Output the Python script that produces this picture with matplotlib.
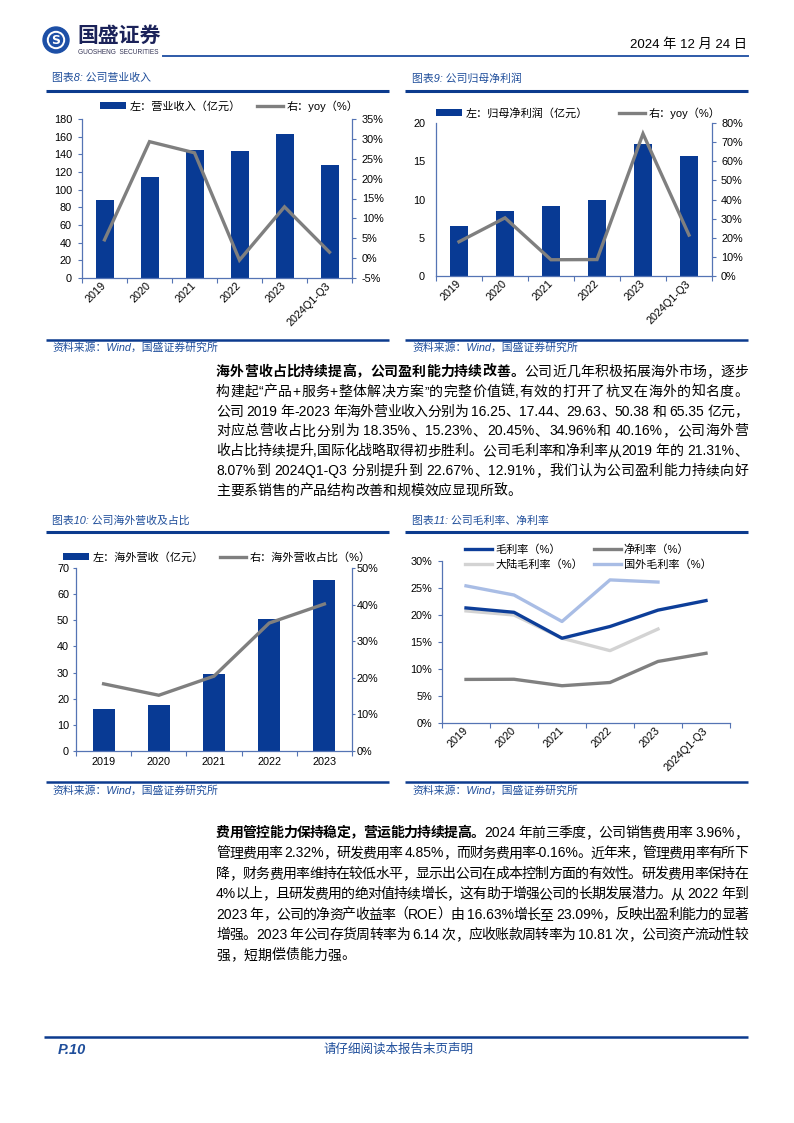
import re
import numpy as np
import matplotlib
matplotlib.use('Agg')
import matplotlib.pyplot as plt
from matplotlib.patches import Circle
import matplotlib.ticker as mticker
from matplotlib.font_manager import FontProperties

W, H = 794, 1123
FAM = ['Liberation Sans', 'Noto Sans CJK SC']
plt.rcParams['font.family'] = FAM
plt.rcParams['axes.unicode_minus'] = False

# ---------------- data ----------------
cats6 = ['2019', '2020', '2021', '2022', '2023', '2024Q1-Q3']
cats5 = ['2019', '2020', '2021', '2022', '2023']

revenue = [88.56, 114.51, 144.89, 144.11, 162.73, 127.5]          # 亿元
revenue_yoy = [4.6, 29.3, 26.5, -0.5, 12.9, 1.5]                  # %

net_profit = [6.5, 8.45, 9.15, 9.9, 17.25, 15.75]                  # 亿元
net_profit_yoy = [17.9, 30.4, 8.5, 8.6, 74.4, 21.4]                # %

overseas_rev = [16.25, 17.44, 29.63, 50.38, 65.35]                 # 亿元
overseas_share = [18.35, 15.23, 20.45, 34.96, 40.16]               # %

gross_margin = [21.31, 20.5, 15.7, 17.87, 20.9, 22.67]
net_margin = [8.07, 8.1, 6.9, 7.5, 11.4, 12.91]
domestic_gm = [20.76, 20.0, 15.7, 13.4, 17.4]
overseas_gm = [25.4, 23.7, 18.8, 26.5, 26.1]

# ---------------- style ----------------
NAVY = '#0C3B8E'
BAR = '#083A94'
GRAY = '#7F7F7F'
SPINE = '#5574B4'
TBLUE = '#1F4E9B'
C_GM = '#0D3E99'
C_NM = '#808080'
C_DGM = '#D3D3D3'
C_OGM = '#A9BDE5'

fig = plt.figure(figsize=(W / 100, H / 100), dpi=100)
bg = fig.add_axes([0, 0, 1, 1])
bg.set_xlim(0, W)
bg.set_ylim(H, 0)
bg.axis('off')


def rect(l, t, r, b):
    return [l / W, 1 - b / H, (r - l) / W, (b - t) / H]


def pct(v, p):
    return f'{v:.0f}%'


PX = 0.72  # points per pixel


def base_axis(ax, n, rot, xpad):
    ax.set_xlim(-0.5, n - 0.5)
    ax.set_xticks(np.arange(n))
    ax.set_xticks(np.arange(n + 1) - 0.5, minor=True)
    ax.tick_params(axis='x', which='major', length=0, pad=xpad * PX, labelsize=7.8)
    ax.tick_params(axis='x', which='minor', length=4 * PX * 1.3, width=0.8,
                   color=SPINE, direction='out')
    ax.spines['top'].set_visible(False)
    for s in ['left', 'bottom', 'right']:
        ax.spines[s].set_color(SPINE)
        ax.spines[s].set_linewidth(0.9)


def combo(box, cats, bars, line, lylim, lyticks, rylim, ryticks, rot,
          lab1, lab2, leg_xy, colsp, ltick, lpad, rtick, rpad, xpad, barw=0.4):
    n = len(cats)
    ax = fig.add_axes(rect(*box))
    x = np.arange(n)
    b = ax.bar(x, bars, width=barw, color=BAR, zorder=2)
    base_axis(ax, n, rot, xpad)
    if rot:
        ax.set_xticklabels(cats, rotation=45, ha='right', va='center',
                           rotation_mode='anchor')
    else:
        ax.set_xticklabels(cats)
    ax.set_ylim(*lylim)
    ax.set_yticks(lyticks)
    ax.spines['right'].set_visible(False)
    ax.tick_params(axis='y', length=ltick * PX, width=0.8, color=SPINE,
                   pad=lpad * PX, labelsize=7.8, direction='out')
    ax2 = ax.twinx()
    ln, = ax2.plot(x, line, color=GRAY, lw=2.4, zorder=3,
                   solid_joinstyle='miter')
    ax2.set_ylim(*rylim)
    ax2.set_yticks(ryticks)
    ax2.yaxis.set_major_formatter(mticker.FuncFormatter(pct))
    for s in ['top', 'left', 'bottom']:
        ax2.spines[s].set_visible(False)
    ax2.spines['right'].set_color(SPINE)
    ax2.spines['right'].set_linewidth(0.9)
    ax2.tick_params(axis='y', length=rtick * PX, width=0.8, color=SPINE,
                    pad=rpad * PX, labelsize=7.8, direction='out')
    ax2.legend([b, ln], [lab1, lab2], ncol=2, loc='center left',
               bbox_to_anchor=leg_xy, bbox_transform=bg.transData,
               frameon=False, fontsize=8, handlelength=2.35, handleheight=0.55,
               handletextpad=0.3, columnspacing=colsp, borderpad=0,
               borderaxespad=0)
    return ax, ax2


# ---------------- chart 8 ----------------
combo((82, 119, 352, 278), cats6, revenue, revenue_yoy,
      (0, 180), np.arange(0, 181, 20), (-5, 35), np.arange(-5, 36, 5), True,
      '左：营业收入（亿元）', '右：yoy（%）', (100, 106), 1.45,
      4, 6, 4, 6, 6)

# ---------------- chart 9 ----------------
combo((436, 123, 712, 276), cats6, net_profit, net_profit_yoy,
      (0, 20), np.arange(0, 21, 5), (0, 80), np.arange(0, 81, 10), True,
      '左：归母净利润（亿元）', '右：yoy（%）', (436, 113), 2.8,
      0, 11, 4, 5, 6)

# ---------------- chart 10 ----------------
combo((76, 568, 352, 751), cats5, overseas_rev, overseas_share,
      (0, 70), np.arange(0, 71, 10), (0, 50), np.arange(0, 51, 10), False,
      '左：海外营收（亿元）', '右：海外营收占比（%）', (63, 557), 1.5,
      3, 4, 3, 1.5, 6)

# ---------------- chart 11 ----------------
ax = fig.add_axes(rect(442, 561, 730, 723))
x6 = np.arange(6)
x5 = np.arange(5)
l_gm, = ax.plot(x6, gross_margin, color=C_GM, lw=2.4, zorder=4)
l_nm, = ax.plot(x6, net_margin, color=C_NM, lw=2.4, zorder=3)
l_dgm, = ax.plot(x5, domestic_gm, color=C_DGM, lw=2.4, zorder=2)
l_ogm, = ax.plot(x5, overseas_gm, color=C_OGM, lw=2.4, zorder=2)
base_axis(ax, 6, True, 6)
ax.set_xticklabels(cats6, rotation=45, ha='right', va='center',
                   rotation_mode='anchor')
ax.spines['right'].set_visible(False)
ax.set_ylim(0, 30)
ax.set_yticks(np.arange(0, 31, 5))
ax.yaxis.set_major_formatter(mticker.FuncFormatter(pct))
ax.tick_params(axis='y', length=4 * PX, width=0.8, color=SPINE, pad=6 * PX,
               labelsize=7.8, direction='out')
ax.legend([l_gm, l_dgm, l_nm, l_ogm],
          ['毛利率（%）', '大陆毛利率（%）', '净利率（%）', '国外毛利率（%）'],
          ncol=2, loc='center left', bbox_to_anchor=(465, 557),
          bbox_transform=bg.transData, frameon=False, fontsize=8,
          handlelength=2.4, handletextpad=0.3, columnspacing=1.0,
          labelspacing=0.4, borderpad=0, borderaxespad=0)

# ---------------- page decoration ----------------
# header
bg.add_patch(Circle((56, 40), 13, color='#1C4FA6', zorder=5))
bg.add_patch(Circle((56, 40), 8.5, color='white', zorder=6))
bg.add_patch(Circle((56, 40), 6.5, color='#1C4FA6', zorder=7))
bg.text(56, 40.5, 'S', color='white', fontsize=9, fontweight='bold',
        ha='center', va='center', zorder=8, family=['DejaVu Sans'])
bg.text(77, 36, '国盛证券', fontsize=15, fontweight='bold', color='#1B2259',
        ha='left', va='center')
bg.text(78, 52.5, 'GUOSHENG  SECURITIES', fontsize=4.7, color='#333355',
        ha='left', va='center')
bg.plot([163, 748], [56, 56], color='#2D5AA8', lw=1.4)
bg.text(747, 45, '2024 年 12 月 24 日', fontsize=9.5, color='black',
        ha='right', va='center')

# section titles & rules
for (x0, x1, tx, title, ty, ly, sy, st) in [
        (46, 389, 52, '图表8: 公司营业收入', 78, 91, 340, 348),
        (405, 748, 412, '图表9: 公司归母净利润', 78, 91, 340, 348),
        (46, 389, 52, '图表10: 公司海外营收及占比', 521, 532, 782, 791),
        (405, 748, 412, '图表11: 公司毛利率、净利率', 521, 532, 782, 791)]:
    bg.text(tx, ty, title, fontsize=7.8, style='italic', color=TBLUE,
            ha='left', va='center')
    bg.plot([x0, x1], [ly, ly], color=NAVY, lw=2.2, solid_capstyle='butt')
    bg.plot([x0, x1], [sy, sy], color=NAVY, lw=1.8, solid_capstyle='butt')
    bg.text(tx, st, '资料来源：Wind，国盛证券研究所', fontsize=7.8,
            style='italic', color=TBLUE, ha='left', va='center')

# footer
bg.plot([44, 748], [1037, 1037], color=NAVY, lw=1.8, solid_capstyle='butt')
bg.text(58, 1050, 'P.10', fontsize=10.5, fontweight='bold', style='italic',
        color=TBLUE, ha='left', va='center')
bg.text(398, 1050, '请仔细阅读本报告末页声明', fontsize=9, style='italic',
        color=TBLUE, ha='center', va='center')

# ---------------- body text (justified) ----------------
renderer = fig.canvas.get_renderer()
FP_REG = FontProperties(family=FAM, size=10)
FP_BOLD = FontProperties(family=FAM, size=10, weight='bold')
_cache = {}


def adv(tok, fp):
    key = (tok, fp.get_weight())
    if key not in _cache:
        w1, _, _ = renderer.get_text_width_height_descent('国' + tok + '国', fp, ismath=False)
        w0, _, _ = renderer.get_text_width_height_descent('国国', fp, ismath=False)
        _cache[key] = w1 - w0
    return _cache[key]


TOK = re.compile(r'[A-Za-z0-9.%\-]+|\s|.')


def draw_line(yc, segs, justify=True, x0=216, x1=748):
    toks = []
    for text, bold in segs:
        fp = FP_BOLD if bold else FP_REG
        for t in TOK.findall(text):
            toks.append((t, fp, adv(t, fp)))
    total = sum(a for _, _, a in toks)
    gap = (x1 - x0 - total) / (len(toks) - 1) if (justify and len(toks) > 1) else 0
    x = x0
    for t, fp, a in toks:
        if not t.isspace():
            bg.text(x, yc + 5, t, fontproperties=fp, va='baseline', ha='left',
                    color='black')
        x += a + gap


para1 = [
    [('海外营收占比持续提高，公司盈利能力持续改善。', True), ('公司近几年积极拓展海外市场，逐步', False)],
    [('构建起“产品+服务+整体解决方案”的完整价值链,有效的打开了杭叉在海外的知名度。', False)],
    [('公司 2019 年-2023 年海外营业收入分别为 16.25、17.44、29.63、50.38 和 65.35 亿元，', False)],
    [('对应总营收占比分别为 18.35%、15.23%、20.45%、34.96%和 40.16%，公司海外营', False)],
    [('收占比持续提升,国际化战略取得初步胜利。公司毛利率和净利率从2019 年的 21.31%、', False)],
    [('8.07%到 2024Q1-Q3 分别提升到 22.67%、12.91%，我们认为公司盈利能力持续向好', False)],
    [('主要系销售的产品结构改善和规模效应显现所致。', False)],
]
para2 = [
    [('费用管控能力保持稳定，营运能力持续提高。', True), ('2024 年前三季度，公司销售费用率 3.96%，', False)],
    [('管理费用率 2.32%，研发费用率 4.85%，而财务费用率-0.16%。近年来，管理费用率有所下', False)],
    [('降，财务费用率维持在较低水平，显示出公司在成本控制方面的有效性。研发费用率保持在', False)],
    [('4%以上，且研发费用的绝对值持续增长，这有助于增强公司的长期发展潜力。从 2022 年到', False)],
    [('2023 年，公司的净资产收益率（ROE）由 16.63%增长至 23.09%，反映出盈利能力的显著', False)],
    [('增强。2023 年公司存货周转率为 6.14 次，应收账款周转率为 10.81 次，公司资产流动性较', False)],
    [('强，短期偿债能力强。', False)],
]

for i, segs in enumerate(para1):
    draw_line(371 + 19.8 * i, segs, justify=(i < len(para1) - 1))
for i, segs in enumerate(para2):
    draw_line(832 + 20.4 * i, segs, justify=(i < len(para2) - 1))

fig.savefig('out.png', dpi=100)
